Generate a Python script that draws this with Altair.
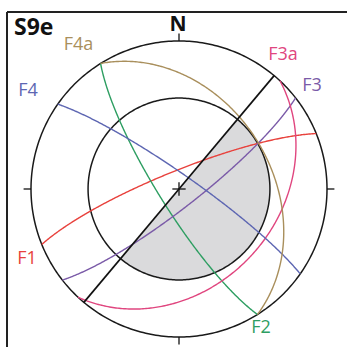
import numpy as np
import pandas as pd
import altair as alt

# Planes (right-hand-rule strike / dip, degrees) drawn as great circles
plane_names = ["F1", "F2", "F3", "F3a", "F4", "F4a"]
plane_strikes = [248, 148, 52, 43, 305, 328]
plane_dips = [80, 79, 80, 34, 82, 38]
plane_colors = ["#e8423d", "#2e9e62", "#7b5ba8", "#e0467f", "#5d66b2", "#a98f5c"]

# Vertical plane that bounds the shaded sector
trace_strike = 40
trace_dip = 90

# Half-angle (from vertical) of the small circle
cone_half_angle = 51.5

# Label anchors in net units (primitive radius = 1)
label_u = [-1.027, 0.554, 0.899, 0.703, -1.020, -0.679]
label_v = [-0.476, -0.939, 0.693, 0.905, 0.659, 0.973]

R_PIX = 148.0
CX, CY = 179.0, 189.0
W = H = 347


def equal_area(trend, plunge):
    r = np.sqrt(2) * np.sin(np.radians(90 - plunge) / 2)
    t = np.radians(trend)
    return r * np.sin(t), r * np.cos(t)


def great_circle(strike, dip, n=241):
    s = np.radians(strike)
    d = np.radians(dip)
    phi = np.radians(np.linspace(0, 180, n))
    north = np.cos(phi) * np.cos(s) + np.sin(phi) * np.cos(s + np.pi / 2) * np.cos(d)
    east = np.cos(phi) * np.sin(s) + np.sin(phi) * np.sin(s + np.pi / 2) * np.cos(d)
    down = np.sin(phi) * np.sin(d)
    plunge = np.degrees(np.arcsin(np.clip(down, -1, 1)))
    trend = np.degrees(np.arctan2(east, north))
    return equal_area(trend, plunge)


def circle(r, n=361):
    a = np.radians(np.linspace(0, 360, n))
    return r * np.sin(a), r * np.cos(a)


x_scale = alt.Scale(domain=[-CX / R_PIX, (W - CX) / R_PIX], nice=False, zero=False)
y_scale = alt.Scale(domain=[-(H - CY) / R_PIX, CY / R_PIX], nice=False, zero=False)
X = lambda f="u": alt.X(f"{f}:Q", scale=x_scale, axis=None)
Y = lambda f="v": alt.Y(f"{f}:Q", scale=y_scale, axis=None)

# Great circles
rows = []
for name, st, dp in zip(plane_names, plane_strikes, plane_dips):
    u, v = great_circle(st, dp)
    for i, (a, b) in enumerate(zip(u, v)):
        rows.append({"plane": name, "u": a, "v": b, "i": i})
gc_df = pd.DataFrame(rows)

color_scale = alt.Scale(domain=plane_names, range=plane_colors)

gc = alt.Chart(gc_df).mark_line(strokeWidth=1.4).encode(
    x=X(), y=Y(), order="i:Q",
    color=alt.Color("plane:N", scale=color_scale, legend=None),
    detail="plane:N",
)

# Shaded half of the small circle, on the dip side of the vertical trace
r_cone = np.sqrt(2) * np.sin(np.radians(cone_half_angle) / 2)
ts = np.radians(trace_strike)
u0 = -r_cone * np.sin(ts)
uu = np.concatenate([np.linspace(u0, r_cone * np.sin(ts), 120), np.linspace(r_cone * np.sin(ts), r_cone, 200)[1:]])
lo = -np.sqrt(np.clip(r_cone ** 2 - uu ** 2, 0, None))
hi = np.minimum(uu / np.tan(ts), np.sqrt(np.clip(r_cone ** 2 - uu ** 2, 0, None)))
shade_df = pd.DataFrame({"u": uu, "v": lo, "v2": hi})
shade = alt.Chart(shade_df).mark_area(color="#dadadc", opacity=1).encode(
    x=X(), y=Y(), y2="v2:Q"
)

# Primitive and small circle
cu, cv = circle(1.0)
pu, pv = circle(r_cone)
circ_df = pd.DataFrame({
    "u": np.concatenate([cu, pu]),
    "v": np.concatenate([cv, pv]),
    "c": ["primitive"] * len(cu) + ["cone"] * len(pu),
    "i": np.concatenate([np.arange(len(cu)), np.arange(len(pu))]),
})
circles = alt.Chart(circ_df).mark_line(color="#1a1a1a", strokeWidth=1.5).encode(
    x=X(), y=Y(), order="i:Q", detail="c:N"
)

# Vertical trace
tu, tv = great_circle(trace_strike, trace_dip, n=3)
trace_df = pd.DataFrame({"u": tu, "v": tv, "i": [0, 1, 2]})
trace = alt.Chart(trace_df).mark_line(color="#111111", strokeWidth=1.7).encode(
    x=X(), y=Y(), order="i:Q"
)

# Cardinal ticks and centre cross
tick_az = np.radians([0, 90, 180, 270])
tick_df = pd.DataFrame({
    "u": np.sin(tick_az), "v": np.cos(tick_az),
    "u2": 1.05 * np.sin(tick_az), "v2": 1.05 * np.cos(tick_az),
})
cross_df = pd.DataFrame({
    "u": [-0.045, 0.0], "v": [0.0, -0.045], "u2": [0.045, 0.0], "v2": [0.0, 0.045]
})
ticks = alt.Chart(pd.concat([tick_df, cross_df])).mark_rule(color="#111111", strokeWidth=1.3).encode(
    x=X(), y=Y(), x2="u2:Q", y2="v2:Q"
)

# Plane labels
lab_df = pd.DataFrame({"plane": plane_names, "u": label_u, "v": label_v})
labels = alt.Chart(lab_df).mark_text(
    font="Open Sans", fontSize=18, align="center", baseline="middle"
).encode(
    x=X(), y=Y(), text="plane:N",
    color=alt.Color("plane:N", scale=color_scale, legend=None),
)

north = alt.Chart(pd.DataFrame({"u": [-0.007], "v": [1.108], "t": ["N"]})).mark_text(
    font="Open Sans", fontSize=21, fontWeight="bold", align="center", baseline="middle", color="#111111"
).encode(x=X(), y=Y(), text="t:N")

panel = alt.Chart(pd.DataFrame({"u": [-1.115], "v": [1.088], "t": ["S9e"]})).mark_text(
    font="Open Sans", fontSize=23, fontWeight="bold", align="left", baseline="middle", color="#111111"
).encode(x=X(), y=Y(), text="t:N")

# Panel frame
frame_top = alt.Chart(pd.DataFrame({"a": [0]})).mark_rule(color="#222222", strokeWidth=2).encode(
    x=alt.value(7), x2=alt.value(W), y=alt.value(12)
)
frame_left = alt.Chart(pd.DataFrame({"a": [0]})).mark_rule(color="#222222", strokeWidth=2).encode(
    x=alt.value(7), y=alt.value(12), y2=alt.value(H)
)

chart = alt.layer(
    shade, circles, gc, trace, ticks, labels, north, panel, frame_top, frame_left
).properties(
    width=W, height=H, padding=0, autosize=alt.AutoSizeParams(type="none")
).configure_view(stroke=None)

chart.save("out.html", embed_options={"renderer": "svg", "actions": False})
